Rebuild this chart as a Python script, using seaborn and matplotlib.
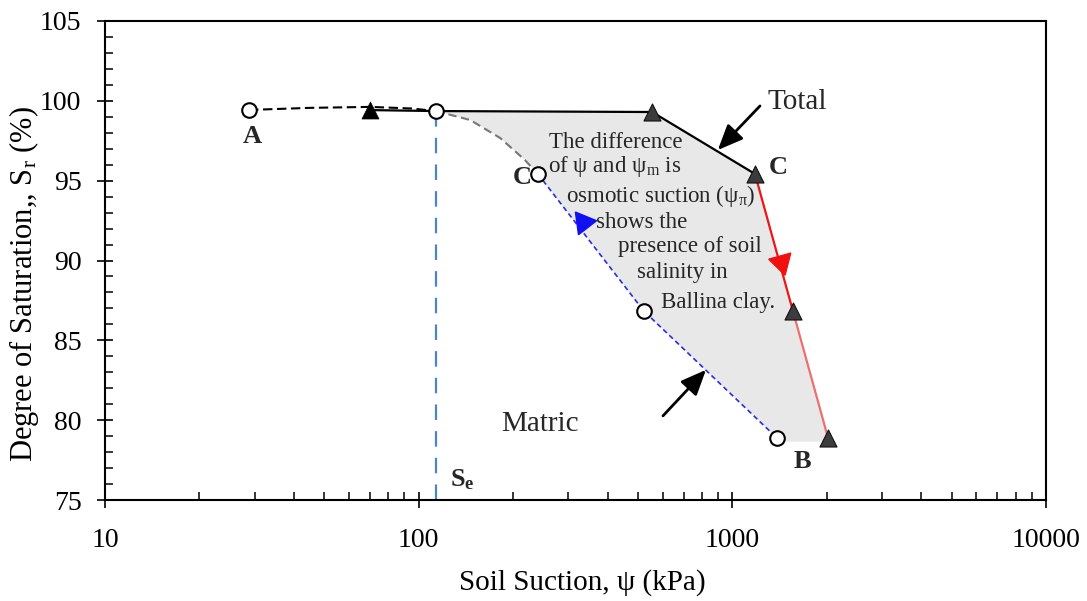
import numpy as np
import pandas as pd
import matplotlib
matplotlib.use("Agg")
import matplotlib.pyplot as plt
import seaborn as sns
from matplotlib.ticker import FixedLocator, MultipleLocator, NullFormatter, LogLocator

# Matric suction measurements (open circles)
matric_suction = [28.8, 113.5, 240, 522, 1387]
matric_sr = [99.43, 99.36, 95.42, 86.84, 78.89]

# Total suction measurements (triangles)
total_suction = [70, 555, 1181, 1560, 2019]
total_sr = [99.42, 99.30, 95.42, 86.84, 78.89]

# Smooth drying-path segments
path_a_suction = [28.8, 45, 70, 95, 113.5]
path_a_sr = [99.43, 99.56, 99.62, 99.52, 99.36]
path_c_suction = [113.5, 146, 182, 218, 240]
path_c_sr = [99.36, 98.8, 97.67, 96.3, 95.42]

# Air-entry suction
air_entry = 113.5

x_ticks = [10, 100, 1000, 10000]
x_tick_labels = ["10", "100", "1000", "10000"]
y_ticks = [75, 80, 85, 90, 95, 100, 105]

sns.set_theme(style="white")
plt.rcParams["font.family"] = ["Liberation Serif", "DejaVu Serif"]
plt.rcParams["mathtext.fontset"] = "custom"
plt.rcParams["mathtext.rm"] = "Liberation Serif"
plt.rcParams["mathtext.it"] = "Liberation Serif:italic"
plt.rcParams["mathtext.bf"] = "Liberation Serif:bold"

fig = plt.figure(figsize=(10.87, 6.01), dpi=100)
ax = fig.add_axes([105 / 1087, 1 - 500 / 601, (1046 - 105) / 1087, (500 - 21) / 601])
ax.set_xscale("log")
ax.set_xlim(10, 10000)
ax.set_ylim(75, 105)

# Shaded region between total and matric curves
top_x = [air_entry] + total_suction[1:]
top_y = [matric_sr[1]] + total_sr[1:]
bot_x = matric_suction[2:][::-1] + path_c_suction[::-1]
bot_y = matric_sr[2:][::-1] + path_c_sr[::-1]
ax.fill(top_x + [total_suction[-1], matric_suction[-1]] + bot_x,
        top_y + [78.65, 78.65] + bot_y,
        color="#e8e8e8", zorder=1, lw=0)

# Air-entry marker line
ax.plot([air_entry, air_entry], [75, matric_sr[1]], color="#4a86c8",
        lw=1.6, dashes=(7, 5), zorder=2)

# Fitted dashed paths
sns.lineplot(x=path_a_suction, y=path_a_sr, ax=ax, color="black", lw=1.5,
             sort=False, estimator=None, zorder=3)
ax.lines[-1].set_dashes((4.5, 2.2))
sns.lineplot(x=path_c_suction, y=path_c_sr, ax=ax, color="#777777", lw=1.5,
             sort=False, estimator=None, zorder=3)
ax.lines[-1].set_dashes((4, 2.2))
sns.lineplot(x=matric_suction[2:], y=matric_sr[2:], ax=ax, color="#2a2ae6", lw=1.2,
             sort=False, estimator=None, zorder=3)
ax.lines[-1].set_dashes((3, 2))

# Total suction line: black over the plateau, red on the steep part
sns.lineplot(x=[total_suction[0], air_entry] + total_suction[1:3],
             y=[total_sr[0], matric_sr[1]] + total_sr[1:3], ax=ax,
             color="black", lw=1.6, sort=False, estimator=None, zorder=3)
sns.lineplot(x=total_suction[2:4], y=total_sr[2:4], ax=ax, color="#ee1515", lw=1.6,
             sort=False, estimator=None, zorder=3)
sns.lineplot(x=total_suction[3:5], y=total_sr[3:5], ax=ax, color="#ec7070", lw=1.6,
             sort=False, estimator=None, zorder=3)

# Markers
sns.scatterplot(x=total_suction[:1], y=total_sr[:1], ax=ax, marker="^", s=150,
                color="black", edgecolor="black", linewidth=0.5, zorder=4)
sns.scatterplot(x=total_suction[1:], y=total_sr[1:], ax=ax, marker="^", s=150,
                color="#3c3c3c", edgecolor="#111111", linewidth=0.8, zorder=4)
sns.scatterplot(x=matric_suction, y=matric_sr, ax=ax, marker="o", s=110,
                color="white", edgecolor="black", linewidth=1.5, zorder=5)

# Direction heads on the drying / wetting paths
ax.plot([334], [92.41], marker=(3, 0, 37.7), ms=19, color="#1010f0", zorder=5)
ax.plot([1429], [89.91], marker=(3, 0, 195.5), ms=19, color="#f01010", zorder=5)

# Pointer arrows
ax.annotate("", xy=(899, 96.92), xytext=(1225, 99.68),
            arrowprops=dict(arrowstyle="-|>,head_length=0.7,head_width=0.3",
                            color="black", lw=2, mutation_scale=22,
                            shrinkA=0, shrinkB=0), zorder=6)
ax.annotate("", xy=(824, 83.15), xytext=(601, 80.27),
            arrowprops=dict(arrowstyle="-|>,head_length=0.7,head_width=0.3",
                            color="black", lw=2, mutation_scale=22,
                            shrinkA=0, shrinkB=0), zorder=6)

# Labels
bold = dict(fontsize=19, fontweight="bold", zorder=7)
ax.text(29.4, 97.74, "A", ha="center", va="center", **bold)
ax.text(229, 95.17, "C", ha="right", va="center", **bold)
ax.text(1398, 95.8, "C", ha="center", va="center", **bold)
ax.text(1679, 77.39, "B", ha="center", va="center", **bold)
ax.text(1299, 99.93, "Total", ha="left", va="center", fontsize=21, zorder=7)
ax.text(243.6, 79.76, "Matric", ha="center", va="center", fontsize=21, zorder=7)
ax.text(125.9, 76.26, r"$\mathbf{S_e}$", ha="left", va="center", fontsize=19, zorder=7)

note = [
    ("The difference", 425.6, 97.42),
    (r"of ψ and ψ$_\mathrm{m}$ is", 422.6, 95.86),
    (r"osmotic suction (ψ$_\mathrm{π}$)", 592, 94.04),
    ("shows the", 515, 92.41),
    ("presence of soil", 732, 90.85),
    ("salinity in", 691, 89.22),
    ("Ballina clay.", 900, 87.4),
]
for txt, xx, yy in note:
    ax.text(xx, yy, txt, ha="center", va="center", fontsize=16.5, zorder=7)

# Axes styling
ax.xaxis.set_major_locator(FixedLocator(x_ticks))
ax.set_xticklabels(x_tick_labels)
ax.xaxis.set_minor_locator(LogLocator(base=10, subs=np.arange(2, 10)))
ax.xaxis.set_minor_formatter(NullFormatter())
ax.yaxis.set_major_locator(FixedLocator(y_ticks))
ax.yaxis.set_minor_locator(MultipleLocator(1))
ax.tick_params(which="major", direction="inout", length=12, width=1.2,
               labelsize=20, colors="black", bottom=True, left=True)
ax.tick_params(axis="x", which="major", pad=14)
ax.tick_params(axis="y", which="major", pad=11)
ax.tick_params(which="minor", direction="in", length=6, width=1.1,
               bottom=True, left=True, colors="black")
for sp in ax.spines.values():
    sp.set_color("black")
    sp.set_linewidth(1.5)

ax.set_xlabel("Soil Suction, ψ (kPa)", fontsize=21, color="black")
ax.xaxis.label.set_va("center")
ax.xaxis.set_label_coords(0.507, -0.173)
ax.set_ylabel(r"Degree of Saturation,, S$_\mathrm{r}$ (%)", fontsize=22, color="black")
ax.yaxis.label.set_va("center")
ax.yaxis.label.set_ha("center")
ax.yaxis.set_label_coords(-0.086, 0.451)
ax.grid(False)

fig.savefig("out.png", dpi=100, facecolor="white")
